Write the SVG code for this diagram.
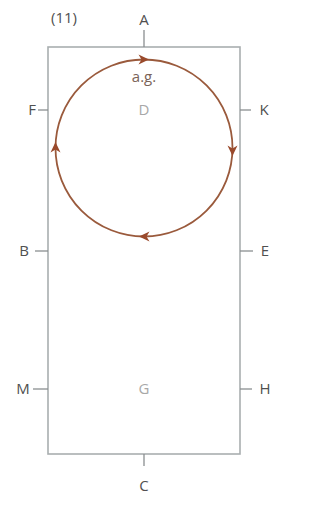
<svg xmlns="http://www.w3.org/2000/svg" width="335" height="515" viewBox="0 0 335 515">
<style>
.frame{fill:none;stroke:#a9aeb0;stroke-width:1.6}
.tick{stroke:#8a8e90;stroke-width:1.3}
.lbl{font-family:"Open Sans","Liberation Sans",sans-serif;font-size:15px;fill:#505050;text-anchor:middle}
.inner{font-family:"Open Sans","Liberation Sans",sans-serif;font-size:15px;fill:#a8a8a8;text-anchor:middle}
.loop{fill:none;stroke:#9a5a3c;stroke-width:1.8}
.head{fill:#9a4a2c}
</style>
<defs>
<path id="ah" d="M6,0 L-4.5,-5 L-1.5,0 L-4.5,5 Z"/>
</defs>
<rect width="335" height="515" fill="#fff"/>
<g id="frame">
<rect class="frame" x="48" y="47" width="192" height="407"/>
</g>
<g id="connectors">
<line class="tick" x1="144" y1="30" x2="144" y2="47"/>
<line class="tick" x1="38" y1="110" x2="48" y2="110"/>
<line class="tick" x1="240" y1="110" x2="251" y2="110"/>
<line class="tick" x1="35" y1="251" x2="48" y2="251"/>
<line class="tick" x1="240" y1="251" x2="253" y2="251"/>
<line class="tick" x1="33" y1="389" x2="48" y2="389"/>
<line class="tick" x1="240" y1="389" x2="252" y2="389"/>
<line class="tick" x1="144" y1="454" x2="144" y2="466"/>
</g>
<g id="loop">
<circle class="loop" cx="144" cy="148" r="88.5"/>
<use href="#ah" class="head" transform="translate(143,59.5)"/>
<use href="#ah" class="head" transform="translate(232.5,150) rotate(90)"/>
<use href="#ah" class="head" transform="translate(145,236.5) rotate(180)"/>
<use href="#ah" class="head" transform="translate(55.5,148) rotate(-90)"/>
</g>
<g id="labels">
<text class="lbl" x="64" y="23">(11)</text>
<text class="lbl" x="144" y="25">A</text>
<text class="lbl" x="32" y="115">F</text>
<text class="lbl" x="264" y="115">K</text>
<text class="lbl" x="24" y="256">B</text>
<text class="lbl" x="265" y="256">E</text>
<text class="lbl" x="23" y="394">M</text>
<text class="lbl" x="265" y="394">H</text>
<text class="lbl" x="144" y="491">C</text>
<text class="lbl" x="144" y="82" style="fill:#7a6358">a.g.</text>
<text class="inner" x="144" y="115">D</text>
<text class="inner" x="144" y="394">G</text>
</g>
</svg>
